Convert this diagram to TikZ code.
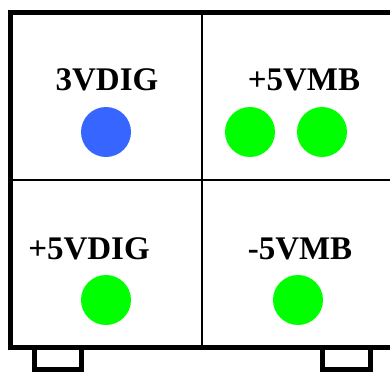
\documentclass[tikz,border=0pt]{standalone}
\usepackage{fontspec}
\setmainfont{Liberation Serif}
\usetikzlibrary{positioning}

\definecolor{ledG}{RGB}{0,255,0}
\definecolor{ledB}{RGB}{54,102,255}
\tikzset{
    railname/.style={font=\fontsize{33}{36}\selectfont\bfseries, inner sep=0pt},
    ledgreen/.style={circle, fill=ledG, minimum size=50pt, inner sep=0pt},
    ledblue/.style={circle, fill=ledB, minimum size=50pt, inner sep=0pt}
}

\begin{document}
\begin{tikzpicture}[x=1pt, y=-1pt]
    \useasboundingbox (0,0) rectangle (390,372);
    \clip (0,0) rectangle (390,372);

    % Panel frame and dividers
    \draw[line width=5pt] (10,12.5) rectangle (420,347.5);
    \draw[line width=2pt] (202,12.5) -- (202,347.5);
    \draw[line width=2pt] (10,180) -- (420,180);

    % Feet
    \draw[line width=4.5pt] (34.5,347.5) rectangle (81.5,369.5);
    \draw[line width=4.5pt] (322.5,347.5) rectangle (370.5,369.5);

    % Labels
    \node[railname] (dig3) at (107,80) {3VDIG};
    \node[railname] (mbp5) at (304,80) {+5VMB};
    \node[railname] (digp5) at (89,249) {+5VDIG};
    \node[railname] (mbn5) at (300,249) {-5VMB};

    % LEDs
    \node[ledblue] (led1) at (106,132) {};
    \node[ledgreen] (led2) at (250,132) {};
    \node[ledgreen] (led3) at (322,132) {};
    \node[ledgreen] (led4) at (106,300) {};
    \node[ledgreen] (led5) at (298,300) {};
\end{tikzpicture}
\end{document}
